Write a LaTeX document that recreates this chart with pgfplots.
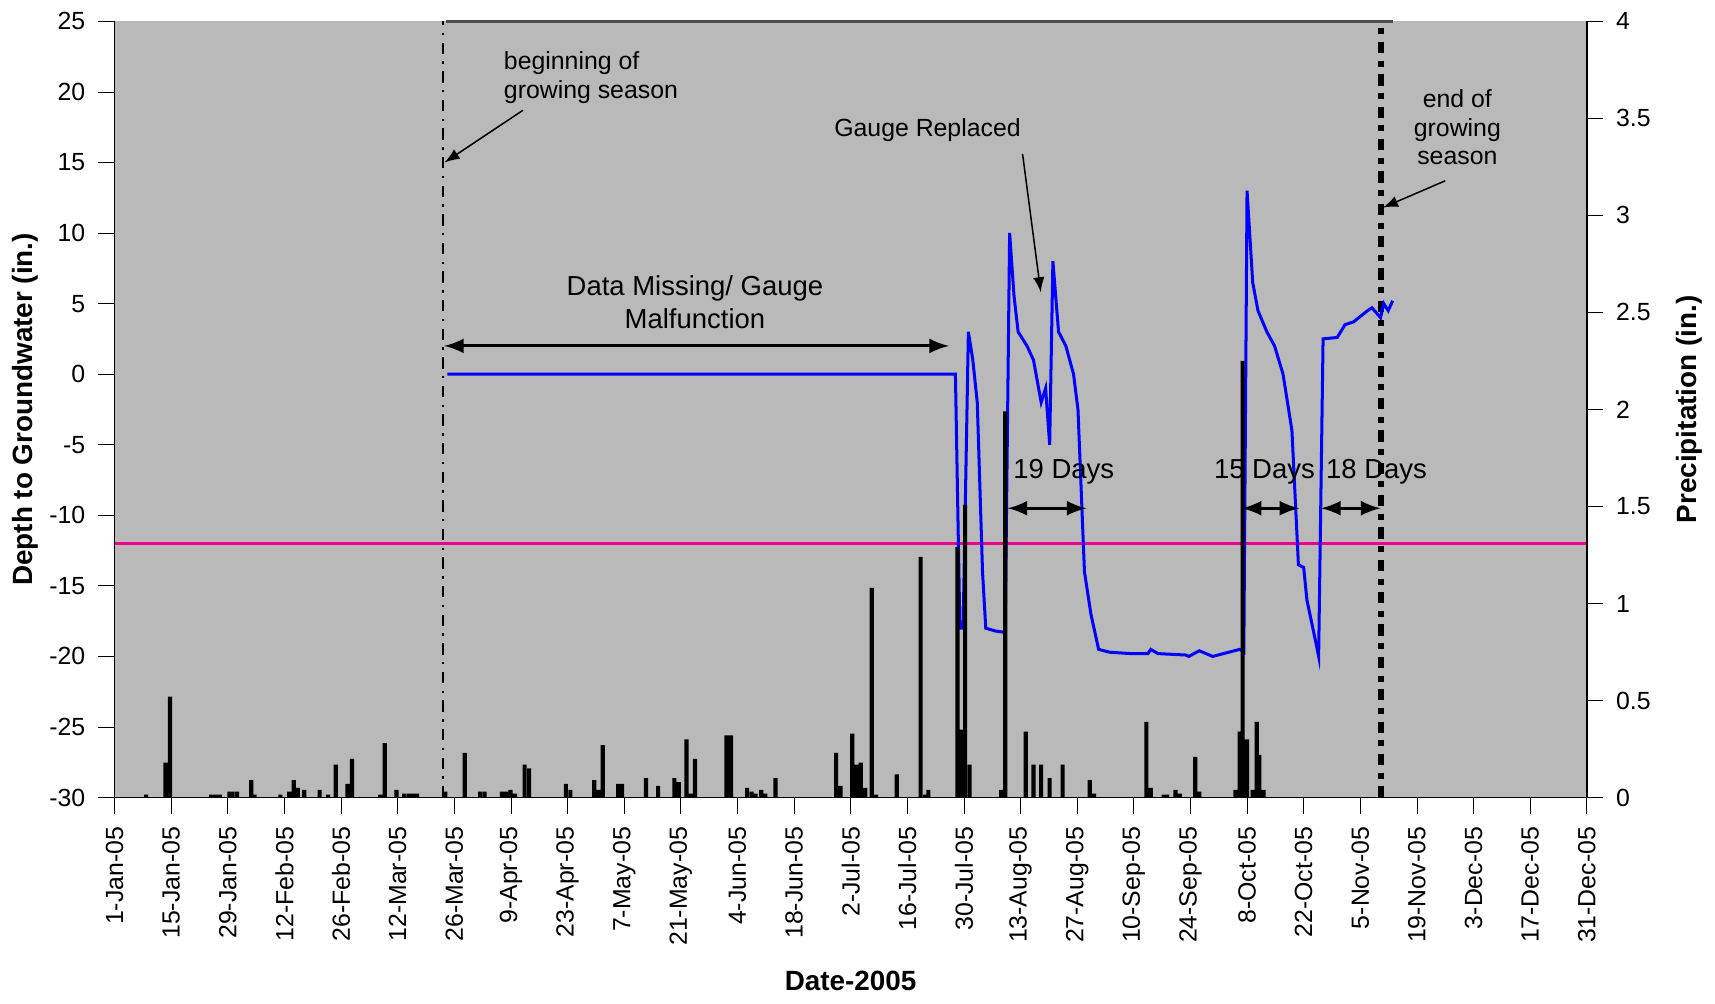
\documentclass[border=0pt]{standalone}
\usepackage{pgfplots}
\pgfplotsset{compat=1.18}
\usepackage{fontspec}
\setmainfont{Liberation Sans}
\begin{document}
\begin{tikzpicture}[font=\fontsize{6.6}{7.6}\selectfont]
\pgfplotsset{every axis/.style={scale only axis,width=13.75cm,height=7.25cm,xmin=0,xmax=364,
 /pgf/number format/assume math mode=true, tick style={black}, tick align=outside}}
\begin{axis}[name=main,at={(0,0)},ymin=-30,ymax=25,ytick={-30,-25,...,25},
 axis background/.style={fill=gray!55},
 axis y line*=left, axis x line*=bottom,
 xtick={0,14,...,364},
 xticklabels={1-Jan-05,15-Jan-05,29-Jan-05,12-Feb-05,26-Feb-05,12-Mar-05,26-Mar-05,9-Apr-05,23-Apr-05,7-May-05,21-May-05,4-Jun-05,18-Jun-05,2-Jul-05,16-Jul-05,30-Jul-05,13-Aug-05,27-Aug-05,10-Sep-05,24-Sep-05,8-Oct-05,22-Oct-05,5-Nov-05,19-Nov-05,3-Dec-05,17-Dec-05,31-Dec-05},
 xticklabel style={rotate=90,anchor=east},
 xlabel={\bfseries\fontsize{7.4}{8}\selectfont Date-2005},
 ylabel={\bfseries\fontsize{7.4}{8}\selectfont Depth to Groundwater (in.)},
 ylabel style={yshift=-4pt},
 clip=false]
\addplot[magenta,thick,forget plot] coordinates {(0,-12) (364,-12)};
\addplot[black,semithick,dash dot] coordinates {(81.3,-30) (81.3,25)};
\addplot[black,line width=1.6pt,dash dot] coordinates {(313,-30) (313,25)};
\addplot[blue,thick] coordinates {
(82.3,0)(207.9,0)(209.0,-18)(209.8,-18)(211.1,3)(212.2,1)(213.3,-2)(214.6,-14)(215.4,-18)(217.8,-18.2)(220.2,-18.3)
(221.3,10)(222.4,5.5)(223.4,3)(225.6,2)(227.2,1)(229.1,-2)(230.2,-1)(231.2,-5)(232.0,8)(233.4,3)(235.2,2)(237.1,0)(238.2,-2.5)(239.8,-14)(241.4,-17)(243.3,-19.5)
(246.0,-19.7)(251.3,-19.8)(255.5,-19.8)(256.2,-19.5)(258.0,-19.8)(264.8,-19.9)(265.6,-20)(268.2,-19.6)(271.5,-20)(275.5,-19.7)(278.2,-19.5)(279.2,-19.7)
(280.0,13)(281.4,6.5)(282.7,4.5)(284.9,3)(286.8,2)(288.9,0)(291.1,-4)(292.7,-13.5)(294.0,-13.7)(294.8,-16)(297.0,-19)(297.7,-20)
(298.8,2.5)(302.3,2.6)(304.2,3.5)(306.3,3.7)(309.8,4.5)(310.9,4.7)(313.0,4)(313.8,5)(314.9,4.5)(316.0,5.2)};
\draw[black!70,thick] (axis cs:82,25) -- (axis cs:316,25);
\node[align=left,anchor=north west] at (axis cs:93,23.8) {beginning of\\growing season};
\draw[-latex,black] (axis cs:101,18.7) -- (axis cs:81.6,15);
\node at (axis cs:201,17.3) {Gauge Replaced};
\draw[-latex,black] (axis cs:224.5,15.6) -- (axis cs:229,5.8);
\node[align=center,anchor=north] at (axis cs:332,21.1) {end of\\growing\\season};
\draw[-latex,black] (axis cs:329,13.7) -- (axis cs:313.6,11.8);
\node[align=center,font=\fontsize{7.3}{8.6}\selectfont] at (axis cs:143.5,5.1) {Data Missing/ Gauge\\Malfunction};
\draw[latex-latex,black,thick] (axis cs:81.5,2) -- (axis cs:206.3,2);
\node[font=\fontsize{7.3}{8}\selectfont] at (axis cs:234.7,-6.9) {19 Days};
\draw[latex-latex,black,thick] (axis cs:220.8,-9.5) -- (axis cs:240.3,-9.5);
\node[font=\fontsize{7.3}{8}\selectfont] at (axis cs:284.3,-6.9) {15 Days};
\draw[latex-latex,black,thick] (axis cs:278.7,-9.5) -- (axis cs:292.9,-9.5);
\node[font=\fontsize{7.3}{8}\selectfont] at (axis cs:312,-6.9) {18 Days};
\draw[latex-latex,black,thick] (axis cs:298.3,-9.5) -- (axis cs:313,-9.5);
\end{axis}
\begin{axis}[at={(0,0)},ymin=0,ymax=4,ytick={0,0.5,...,4},
 yticklabel style={/pgf/number format/fixed},
 axis y line*=right, axis x line=none,
 ylabel={\bfseries\fontsize{7.4}{8}\selectfont Precipitation (in.)},
 ybar,bar width=1.1pt,bar shift=0pt]
\addplot[fill=black,draw=none] coordinates {
(7.8,0.015)(12.6,0.18)(13.7,0.52)(23.9,0.015)(25,0.015)(26,0.015)(28.4,0.03)(29.2,0.03)(30.3,0.03)(33.8,0.09)(34.6,0.015)
(41,0.015)(43.2,0.03)(44.3,0.09)(45.3,0.05)(46.9,0.04)(50.7,0.04)(52.8,0.015)(54.7,0.17)(57.6,0.07)(58.7,0.20)
(65.7,0.015)(66.8,0.28)(69.7,0.04)(71.6,0.02)(72.7,0.02)(73.8,0.02)(74.8,0.02)(81.8,0.03)(86.6,0.23)
(90.4,0.03)(91.5,0.03)(95.8,0.03)(96.8,0.03)(97.9,0.04)(99,0.02)(101.4,0.17)(102.5,0.15)
(111.6,0.07)(112.7,0.04)(118.6,0.09)(119.6,0.04)(120.7,0.27)(124.5,0.07)(125.5,0.07)(131.4,0.10)(134.4,0.06)
(138.4,0.10)(139.5,0.08)(141.4,0.30)(142.4,0.02)(143.5,0.20)(151.3,0.32)(152.4,0.32)(156.4,0.05)(157.5,0.03)(158.5,0.02)(159.9,0.04)(160.9,0.02)(163.4,0.10)
(178.4,0.23)(179.5,0.06)(182.4,0.33)(183.5,0.17)(184.5,0.18)(185.6,0.05)(187.2,1.08)(188.3,0.015)(193.4,0.12)(199.3,1.24)(200.4,0.015)(201.2,0.04)
(208.4,1.29)(209.2,0.35)(210.3,1.51)(211.4,0.17)(219.2,0.04)(220.2,1.99)(225.3,0.34)(227.2,0.17)(229.1,0.17)(231.2,0.10)(234.4,0.17)
(241.1,0.09)(242.2,0.02)(255.1,0.39)(256.2,0.05)(259.4,0.015)(260.2,0.015)(262.3,0.04)(263.4,0.02)(267.2,0.21)(268.2,0.03)
(277.1,0.04)(278.2,0.34)(278.9,2.25)(280,0.30)(281.4,0.04)(282.4,0.39)(283,0.22)(284.1,0.04)};
\end{axis}
\end{tikzpicture}
\end{document}
